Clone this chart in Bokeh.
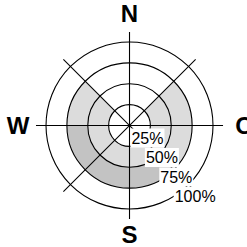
import numpy as np
from bokeh.plotting import figure
from bokeh.models import ColumnDataSource
from bokeh.core.properties import value
from bokeh.embed import file_html
from bokeh.resources import INLINE

# Sectors clockwise from north (45 degree wide each)
sectors = ["NNO", "ONO", "OSO", "SSO", "SSW", "WSW", "WNW", "NNW"]
base = 25
light = [0, 50, 50, 25, 25, 25, 50, 0]   # light grey series (stacked on base)
dark = [0, 0, 0, 25, 25, 25, 0, 0]       # dark grey series (stacked on light)
ticks = [25, 50, 75, 100]
tick_labels = ["25%", "50%", "75%", "100%"]
compass = ["N", "O", "S", "W"]

# compass angles (clockwise from north) -> math angles
idx = np.arange(len(sectors))
start_c = idx * 45.0
end_c = start_c + 45.0
start_m = np.deg2rad(90 - end_c)
end_m = np.deg2rad(90 - start_c)

light_arr = np.array(light, float)
dark_arr = np.array(dark, float)
l_in = np.full(len(sectors), base, float)
l_out = l_in + light_arr
d_out = l_out + dark_arr

p = figure(width=247, height=247, output_backend="svg", toolbar_location=None,
           x_range=(-154.5, 141.3), y_range=(-146.1, 149.7), min_border=0)
p.axis.visible = False
p.grid.visible = False
p.outline_line_color = None
p.background_fill_color = "white"

mask_l = light_arr > 0
src_l = ColumnDataSource(dict(s=start_m[mask_l], e=end_m[mask_l], ri=l_in[mask_l], ro=l_out[mask_l]))
p.annular_wedge(x=0, y=0, inner_radius="ri", outer_radius="ro", start_angle="s", end_angle="e",
                source=src_l, fill_color="#dcdcdc", line_color=None)
mask_d = dark_arr > 0
src_d = ColumnDataSource(dict(s=start_m[mask_d], e=end_m[mask_d], ri=l_out[mask_d], ro=d_out[mask_d]))
p.annular_wedge(x=0, y=0, inner_radius="ri", outer_radius="ro", start_angle="s", end_angle="e",
                source=src_d, fill_color="#c3c3c3", line_color=None)

# grid circles
p.circle(x=np.zeros(len(ticks)), y=np.zeros(len(ticks)), radius=ticks,
         fill_color=None, line_color="black", line_width=1.1)

# spokes
L = 112
ang = np.deg2rad([0, 45, 90, 135])
p.segment(x0=-L * np.cos(ang), y0=-L * np.sin(ang), x1=L * np.cos(ang), y1=L * np.sin(ang),
          line_color="black", line_width=1.1)

# radial tick labels
tv = np.array(ticks, float)
lx = tv * 0.69 - 16.1
ly = -tv * 0.933 + 8.3
p.text(x=lx, y=ly, text=tick_labels, text_align="left", text_baseline="middle",
       text_font=value("Liberation Sans"), text_font_size="16px", text_color="black",
       background_fill_color="white", padding=1)

# compass letters
R = np.array([134.7, 137.7, 130.5, 133.5])
cang = np.deg2rad(90 - np.array([0, 90, 180, 270]))
p.text(x=R * np.cos(cang), y=R * np.sin(cang), text=compass,
       text_align="center", text_baseline="middle",
       text_font=value("Liberation Sans"), text_font_style="bold", text_font_size="24px",
       text_color="black")

open("out.html", "w").write(file_html(p, INLINE))
